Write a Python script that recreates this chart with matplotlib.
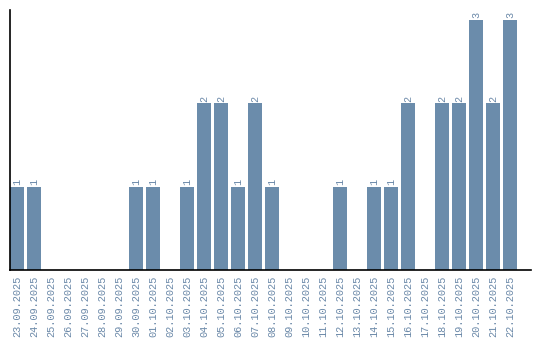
import matplotlib
matplotlib.use("Agg")
import matplotlib.pyplot as plt

dates = ["23.09.2025", "24.09.2025", "25.09.2025", "26.09.2025", "27.09.2025",
         "28.09.2025", "29.09.2025", "30.09.2025", "01.10.2025", "02.10.2025",
         "03.10.2025", "04.10.2025", "05.10.2025", "06.10.2025", "07.10.2025",
         "08.10.2025", "09.10.2025", "10.10.2025", "11.10.2025", "12.10.2025",
         "13.10.2025", "14.10.2025", "15.10.2025", "16.10.2025", "17.10.2025",
         "18.10.2025", "19.10.2025", "20.10.2025", "21.10.2025", "22.10.2025"]
counts = [1, 1, 0, 0, 0, 0, 0, 1, 1, 0,
          1, 2, 2, 1, 2, 1, 0, 0, 0, 1,
          0, 1, 1, 2, 0, 2, 2, 3, 2, 3]

bar_color = "#6b8cab"
text_color = "#6a88a8"
font = "Liberation Mono"

fig = plt.figure(figsize=(5.4, 3.4), dpi=100)
ax = fig.add_axes([10/540, 70/340, 521/540, 260/340])

x = list(range(len(dates)))
ax.bar(x, counts, width=0.82, color=bar_color)
for xi, v in zip(x, counts):
    if v > 0:
        ax.text(xi, v + 0.02, str(v), rotation=90, ha="center", va="bottom",
                fontsize=7.3, color=text_color, family=font)

ax.set_xlim(-0.41, 30.24)
ax.set_ylim(0, 3.12)
ax.set_xticks(x)
ax.set_xticklabels(dates, rotation=90, fontsize=7.4, color=text_color, family=font)
ax.tick_params(axis="x", length=0, pad=4)
ax.set_yticks([])
for s in ["top", "right"]:
    ax.spines[s].set_visible(False)
for s in ["left", "bottom"]:
    ax.spines[s].set_color("black")
    ax.spines[s].set_linewidth(1.2)

fig.savefig("out.png", dpi=100)
